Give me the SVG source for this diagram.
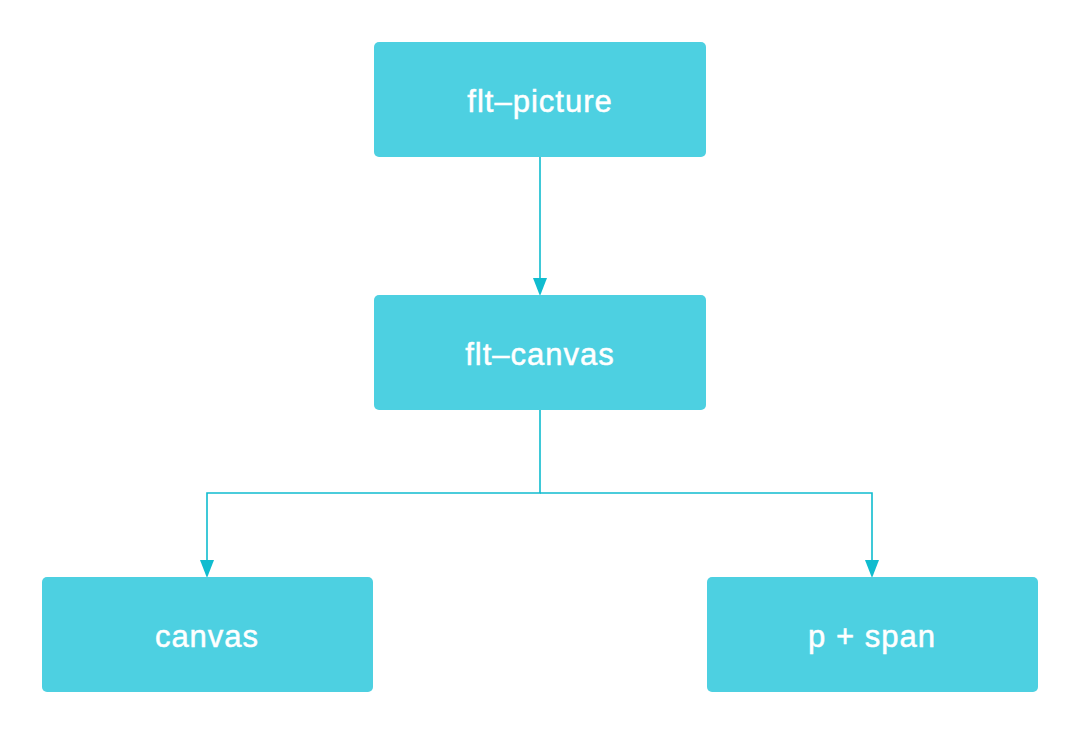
<svg xmlns="http://www.w3.org/2000/svg" width="1080" height="734" viewBox="0 0 1080 734">
<style>
.node rect{fill:#4dd0e1;}
.node text{fill:#ffffff;font-family:"Liberation Sans",Arial,sans-serif;font-size:31px;letter-spacing:1px;text-anchor:middle;stroke:#ffffff;stroke-width:0.5;}
.conn{fill:none;stroke:#10bccf;stroke-width:1.6;}
.head{fill:#10bccf;}
</style>
<rect width="1080" height="734" fill="#ffffff"/>
<g id="connectors">
<path class="conn" d="M540,157 V278"/>
<path class="head" d="M533,278 L547,278 L540,296 Z"/>
<path class="conn" d="M540,410 V493 H207 V560"/>
<path class="head" d="M200,560 L214,560 L207,578 Z"/>
<path class="conn" d="M540,493 H872 V560"/>
<path class="head" d="M865,560 L879,560 L872,578 Z"/>
</g>
<g id="node-flt-picture" class="node">
<rect x="374" y="42" width="332" height="115" rx="5"/>
<text x="540" y="112">flt–picture</text>
</g>
<g id="node-flt-canvas" class="node">
<rect x="374" y="295" width="332" height="115" rx="5"/>
<text x="540" y="365">flt–canvas</text>
</g>
<g id="node-canvas" class="node">
<rect x="42" y="577" width="331" height="115" rx="5"/>
<text x="207" y="647">canvas</text>
</g>
<g id="node-p-span" class="node">
<rect x="707" y="577" width="331" height="115" rx="5"/>
<text x="872" y="647">p + span</text>
</g>
</svg>
